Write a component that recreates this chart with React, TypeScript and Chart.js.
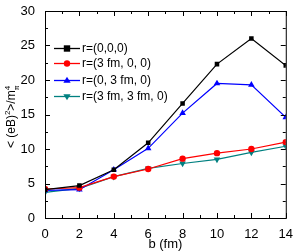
import React, { useEffect, useRef } from "react";
import { Chart, registerables } from "chart.js";
Chart.register(...registerables);

const bValues = [0, 2, 4, 6, 8, 10, 12, 14];
const seriesLabels = ["r=(0,0,0)", "r=(3 fm, 0, 0)", "r=(0, 3 fm, 0)", "r=(3 fm, 3 fm, 0)"];
const s000 = [4.1, 4.7, 7.0, 10.9, 16.6, 22.3, 26.0, 22.1];
const s300 = [4.2, 4.4, 6.0, 7.1, 8.6, 9.4, 10.0, 11.0];
const s030 = [4.0, 4.1, 7.0, 10.1, 15.2, 19.5, 19.3, 14.6];
const s330 = [3.7, 4.3, 6.0, 7.2, 7.9, 8.5, 9.5, 10.4];
const colors = ["#000000", "#ff0000", "#0000ff", "#008080"];
const pointStyles = ["rect", "circle", "triangle", "triangle"];
const rotations = [0, 0, 0, 180];
const radii = [3.2, 3.2, 3.8, 3.8];

const FONT = "'Liberation Sans', Arial, sans-serif";

function drawMarker(ctx: any, style: string, x: number, y: number, r: number, rot: number) {
  ctx.beginPath();
  if (style === "rect") {
    ctx.rect(x - r, y - r, 2 * r, 2 * r);
  } else if (style === "circle") {
    ctx.arc(x, y, r, 0, Math.PI * 2);
  } else {
    const dir = rot === 180 ? -1 : 1;
    ctx.moveTo(x, y - dir * r);
    ctx.lineTo(x + r * 0.95, y + dir * r * 0.6);
    ctx.lineTo(x - r * 0.95, y + dir * r * 0.6);
    ctx.closePath();
  }
  ctx.fill();
}

const framePlugin = {
  id: "frame",
  afterDraw(chart: any) {
    const ctx = chart.ctx;
    const { left, right, top, bottom } = chart.chartArea;
    const xs = chart.scales.x;
    const ys = chart.scales.y;
    ctx.save();
    ctx.strokeStyle = "#000";
    ctx.lineWidth = 1;
    ctx.strokeRect(left + 0.5, top + 0.5, right - left, bottom - top);
    ctx.beginPath();
    for (let v = 0; v <= 14; v += 1) {
      const px = Math.round(xs.getPixelForValue(v)) + 0.5;
      const len = v % 2 === 0 ? 5 : 3;
      ctx.moveTo(px, bottom);
      ctx.lineTo(px, bottom - len);
      ctx.moveTo(px, top);
      ctx.lineTo(px, top + len);
    }
    for (let v = 0; v <= 30; v += 2.5) {
      const py = Math.round(ys.getPixelForValue(v)) + 0.5;
      const len = v % 5 === 0 ? 5 : 3;
      ctx.moveTo(left, py);
      ctx.lineTo(left + len, py);
      ctx.moveTo(right, py);
      ctx.lineTo(right - len, py);
    }
    ctx.stroke();

    // x title
    ctx.fillStyle = "#000";
    ctx.font = `13px ${FONT}`;
    ctx.textAlign = "center";
    ctx.textBaseline = "alphabetic";
    ctx.fillText("b (fm)", (left + right) / 2, 248);

    // y title
    ctx.save();
    ctx.translate(15, 117);
    ctx.rotate(-Math.PI / 2);
    const main = 12;
    const sup = 8;
    const parts: [string, number, number][] = [
      ["< (eB)", main, 0],
      ["2", sup, -5],
      [">/m", main, 0],
    ];
    let total = 0;
    for (const [t, s] of parts) {
      ctx.font = `${s}px ${FONT}`;
      total += ctx.measureText(t).width;
    }
    ctx.font = `${sup}px ${FONT}`;
    total += ctx.measureText("4").width;
    let x = -total / 2;
    ctx.textAlign = "left";
    for (const [t, s, dy] of parts) {
      ctx.font = `${s}px ${FONT}`;
      ctx.fillText(t, x, dy);
      x += ctx.measureText(t).width;
    }
    ctx.font = `${sup}px ${FONT}`;
    ctx.fillText("4", x, -5);
    ctx.font = `7px ${FONT}`;
    ctx.fillText("π", x, 4);
    ctx.restore();

    // legend
    const rows = [48, 63, 80, 96];
    chart.data.datasets.forEach((ds: any, i: number) => {
      const y = rows[i] + 0.5;
      ctx.strokeStyle = ds.borderColor;
      ctx.lineWidth = 1.3;
      ctx.beginPath();
      ctx.moveTo(54, y);
      ctx.lineTo(80, y);
      ctx.stroke();
      ctx.fillStyle = ds.backgroundColor;
      drawMarker(ctx, pointStyles[i], 67, y, radii[i], rotations[i]);
      ctx.fillStyle = "#000";
      ctx.font = `12px ${FONT}`;
      ctx.textAlign = "left";
      ctx.textBaseline = "middle";
      ctx.fillText(ds.label, 82, y);
    });
    ctx.restore();
  },
};

export default function App() {
  const ref = useRef<HTMLCanvasElement>(null);
  useEffect(() => {
    document.body.style.margin = "0";
    const all = [s000, s300, s030, s330];
    const chart = new Chart(ref.current!, {
      type: "line",
      data: {
        datasets: all.map((arr, i) => ({
          label: seriesLabels[i],
          data: arr.map((v, j) => ({ x: bValues[j], y: v })),
          borderColor: colors[i],
          backgroundColor: colors[i],
          borderWidth: 1.2,
          pointStyle: pointStyles[i] as any,
          pointRotation: rotations[i],
          pointRadius: radii[i],
          pointBorderWidth: 0,
          tension: 0,
        })),
      },
      options: {
        animation: false,
        responsive: false,
        devicePixelRatio: 1,
        layout: { padding: { top: 11, right: 7, left: 0, bottom: 0 } },
        plugins: { legend: { display: false }, tooltip: { enabled: false } },
        scales: {
          x: {
            type: "linear",
            min: 0,
            max: 14,
            afterFit: (s: any) => { s.height = 33; },
            ticks: { stepSize: 2, color: "#000", font: { family: FONT, size: 13 }, padding: 1, maxRotation: 0 },
            grid: { display: false },
            border: { display: false },
          },
          y: {
            min: 0,
            max: 30,
            afterFit: (s: any) => { s.width = 45; },
            ticks: { stepSize: 5, color: "#000", font: { family: FONT, size: 13 }, padding: 2 },
            grid: { display: false },
            border: { display: false },
          },
        },
      },
      plugins: [framePlugin],
    });
    return () => chart.destroy();
  }, []);
  return <canvas ref={ref} width={294} height={251} style={{ display: "block" }} />;
}
